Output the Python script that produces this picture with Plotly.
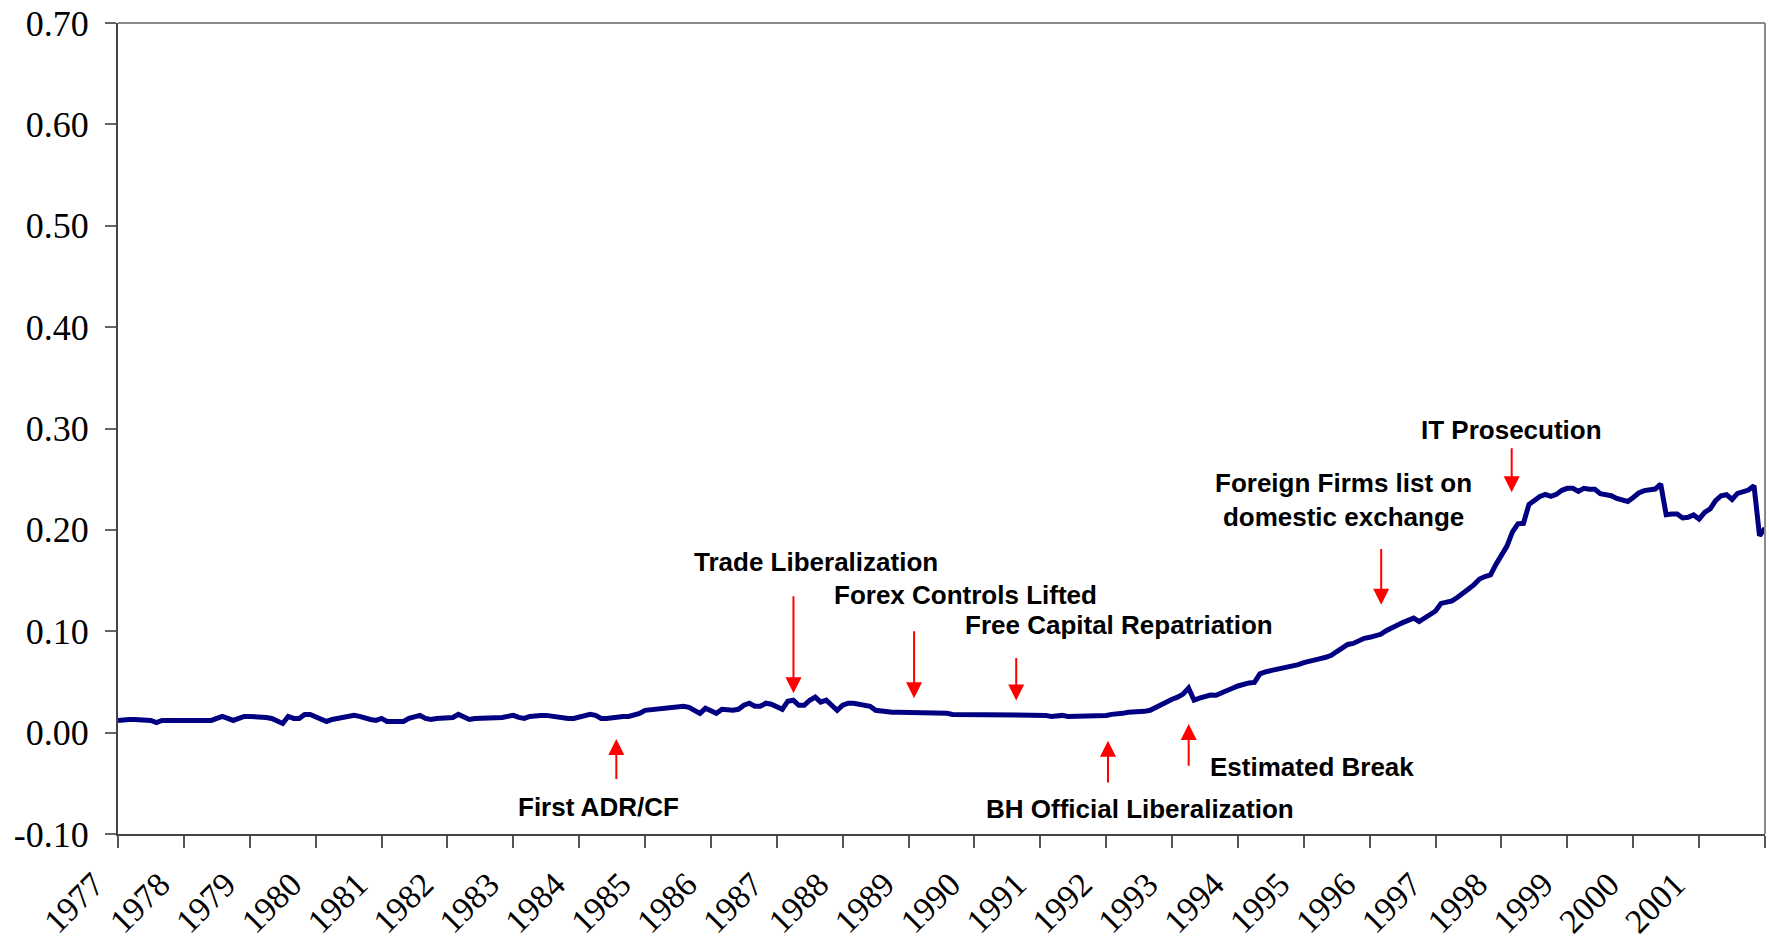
import plotly.graph_objects as go

# ---- data (monthly, Jan 1977 .. Jan 2002) ----
s1977 = [0.012, 0.013, 0.013, 0.013, 0.013, 0.013, 0.012, 0.010, 0.012, 0.012, 0.012, 0.012]
s1978 = [0.012, 0.013, 0.013, 0.012, 0.012, 0.012, 0.014, 0.016, 0.014, 0.012, 0.014, 0.016]
s1979 = [0.016, 0.016, 0.016, 0.015, 0.014, 0.012, 0.009, 0.016, 0.014, 0.014, 0.018, 0.018]
s1980 = [0.016, 0.013, 0.011, 0.013, 0.014, 0.014, 0.015, 0.017, 0.016, 0.014, 0.013, 0.012]
s1981 = [0.014, 0.011, 0.011, 0.010, 0.011, 0.014, 0.016, 0.017, 0.014, 0.013, 0.014, 0.014]
s1982 = [0.014, 0.015, 0.018, 0.016, 0.013, 0.014, 0.014, 0.014, 0.014, 0.014, 0.015, 0.016]
s1983 = [0.017, 0.015, 0.014, 0.016, 0.017, 0.017, 0.017, 0.016, 0.015, 0.014, 0.014, 0.014]
s1984 = [0.015, 0.016, 0.018, 0.017, 0.014, 0.014, 0.015, 0.016, 0.016, 0.016, 0.017, 0.019]
s1985 = [0.022, 0.0225, 0.023, 0.024, 0.025, 0.025, 0.026, 0.026, 0.025, 0.022, 0.019, 0.024]
s1986 = [0.022, 0.019, 0.023, 0.022, 0.022, 0.023, 0.027, 0.029, 0.026, 0.026, 0.029, 0.028]
s1987 = [0.025, 0.023, 0.031, 0.032, 0.027, 0.027, 0.032, 0.035, 0.030, 0.032, 0.027, 0.022]
s1988 = [0.027, 0.029, 0.029, 0.028, 0.028, 0.026, 0.022, 0.021, 0.021, 0.020, 0.020, 0.020]
s1989 = [0.020, 0.020, 0.020, 0.020, 0.019, 0.019, 0.019, 0.019, 0.018, 0.018, 0.018, 0.018]
s1990 = [0.017, 0.017, 0.017, 0.017, 0.017, 0.017, 0.017, 0.017, 0.017, 0.017, 0.017, 0.017]
s1991 = [0.017, 0.017, 0.016, 0.017, 0.017, 0.016, 0.016, 0.016, 0.016, 0.016, 0.016, 0.016]
s1992 = [0.017, 0.018, 0.018, 0.019, 0.020, 0.020, 0.020, 0.021, 0.022, 0.025, 0.028, 0.031]
s1993 = [0.033, 0.035, 0.038, 0.044, 0.032, 0.034, 0.0355, 0.037, 0.0368, 0.0394, 0.0424, 0.0437]
s1994 = [0.046, 0.048, 0.049, 0.0495, 0.058, 0.060, 0.061, 0.063, 0.064, 0.065, 0.066, 0.067]
s1995 = [0.069, 0.0707, 0.072, 0.073, 0.0743, 0.0763, 0.080, 0.084, 0.087, 0.088, 0.091, 0.093]
s1996 = [0.094, 0.095, 0.097, 0.1006, 0.104, 0.106, 0.1085, 0.111, 0.113, 0.1095, 0.113, 0.117]
s1997 = [0.120, 0.1275, 0.129, 0.130, 0.1335, 0.137, 0.1417, 0.146, 0.1515, 0.154, 0.1555, 0.166]
s1998 = [0.176, 0.184, 0.198, 0.206, 0.2065, 0.225, 0.229, 0.233, 0.235, 0.233, 0.235, 0.239]
s1999 = [0.241, 0.241, 0.238, 0.241, 0.240, 0.240, 0.2357, 0.2347, 0.2337, 0.231, 0.230, 0.228]
s2000 = [0.232, 0.2364, 0.2387, 0.2396, 0.2403, 0.2452, 0.215, 0.2157, 0.2157, 0.2117, 0.2124, 0.2147]
s2001 = [0.2107, 0.2173, 0.2206, 0.2288, 0.2337, 0.2347, 0.230, 0.236, 0.238, 0.2393, 0.2436, 0.1943]
s2002 = [0.2015]

series = (s1977 + s1978 + s1979 + s1980 + s1981 + s1982 + s1983 + s1984 + s1985
          + s1986 + s1987 + s1988 + s1989 + s1990 + s1991 + s1992 + s1993 + s1994
          + s1995 + s1996 + s1997 + s1998 + s1999 + s2000 + s2001 + s2002)
dates = [1977 + i / 12 for i in range(len(series))]

year_ticks = list(range(1977, 2003))
year_labels = [str(y) for y in range(1977, 2002)] + [""]
y_ticks = [-0.1, 0.0, 0.1, 0.2, 0.3, 0.4, 0.5, 0.6, 0.7]
y_labels = ["-0.10", "0.00", "0.10", "0.20", "0.30", "0.40", "0.50", "0.60", "0.70"]

# event labels: (text, x, y)
event_texts = [
    ("Trade Liberalization", 1987.60, 0.1680),
    ("Forex Controls Lifted", 1989.86, 0.1362),
    ("Free Capital Repatriation", 1992.20, 0.1058),
    ("First ADR/CF", 1984.30, -0.0735),
    ("BH Official Liberalization", 1992.52, -0.0757),
    ("Estimated Break", 1995.13, -0.0343),
    ("Foreign Firms list on<br>domestic exchange", 1995.60, 0.2295),
    ("IT Prosecution", 1998.15, 0.2990),
]
# event arrows: (x, tail y, head y)
event_arrows = [
    (1987.253, 0.1361, 0.0388),
    (1989.084, 0.1016, 0.0338),
    (1990.634, 0.0752, 0.0316),
    (1984.564, -0.0473, -0.0062),
    (1992.027, -0.0506, -0.0079),
    (1993.252, -0.0342, 0.0086),
    (1996.174, 0.1827, 0.1262),
    (1998.155, 0.2821, 0.2370),
]

fig = go.Figure()
fig.add_trace(go.Scatter(
    x=dates, y=series, mode="lines",
    line=dict(color="#000080", width=5),
    hoverinfo="skip", showlegend=False,
))

annotations = []
for txt, xv, yv in event_texts:
    annotations.append(dict(
        text="<b>" + txt + "</b>", x=xv, y=yv, xref="x", yref="y",
        showarrow=False, xanchor="center", yanchor="middle",
        font=dict(family="Liberation Sans, Arial, sans-serif", size=26, color="black"),
    ))
for xv, tail, head in event_arrows:
    annotations.append(dict(
        text="", x=xv, y=head, ax=xv, ay=tail,
        xref="x", yref="y", axref="x", ayref="y",
        showarrow=True, arrowhead=2, arrowsize=1.6, arrowwidth=2,
        arrowcolor="#ff0000", standoff=0, startstandoff=0,
    ))

fig.update_layout(
    width=1769, height=947,
    margin=dict(l=118, r=4, t=23, b=113, pad=0),
    paper_bgcolor="white", plot_bgcolor="white",
    showlegend=False,
    annotations=annotations,
    shapes=[
        dict(type="line", xref="paper", yref="paper", x0=0, x1=1, y0=1, y1=1,
             line=dict(color="#8a8a8a", width=2)),
        dict(type="line", xref="paper", yref="paper", x0=1, x1=1, y0=0, y1=1,
             line=dict(color="#8a8a8a", width=2)),
    ],
)

fig.update_xaxes(
    range=[1977, 2002], tickmode="array", tickvals=year_ticks, ticktext=year_labels,
    tickangle=-45, showgrid=False, zeroline=False,
    showline=True, linecolor="#444444", linewidth=2,
    ticks="outside", ticklen=12, tickwidth=2, tickcolor="#555555",
    tickfont=dict(family="Liberation Serif, Times New Roman, serif", size=34, color="black"),
    ticklabelstandoff=3, ticklabelshift=-24,
    automargin=False,
)
fig.update_yaxes(
    range=[-0.1, 0.7], tickmode="array", tickvals=y_ticks, ticktext=y_labels,
    showgrid=False, zeroline=False,
    showline=True, linecolor="#444444", linewidth=2,
    ticks="outside", ticklen=11, tickwidth=2, tickcolor="#666666",
    tickfont=dict(family="Liberation Serif, Times New Roman, serif", size=36, color="black"),
    ticklabelstandoff=9,
    automargin=False,
)

fig.write_html(
    "out.html",
    config={"displayModeBar": False},
    post_script="document.body.style.margin='0';document.body.style.overflow='hidden';",
)
